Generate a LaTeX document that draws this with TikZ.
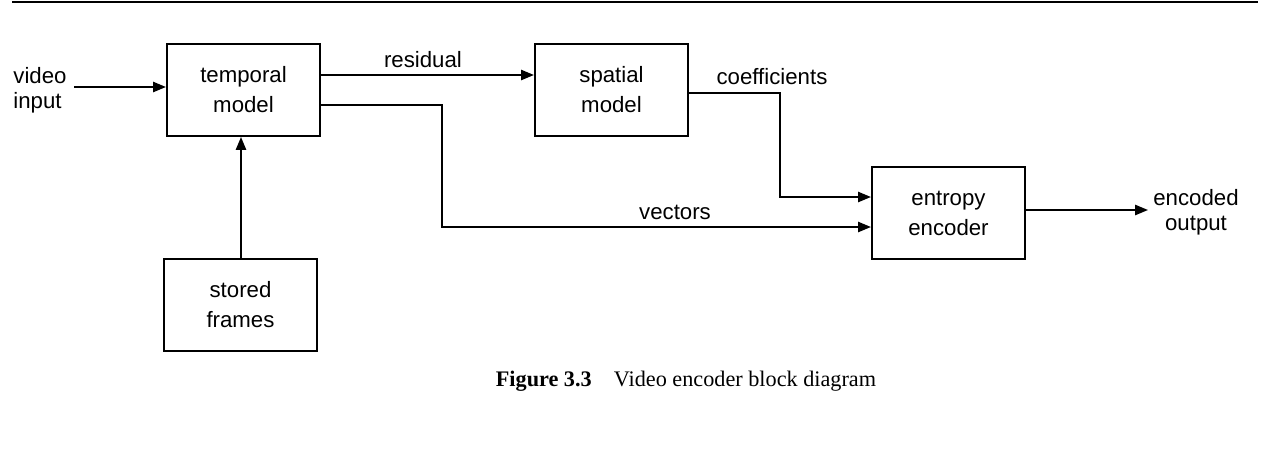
\documentclass[tikz,border=0pt]{standalone}
\usepackage{fontspec}
\setmainfont{Liberation Serif}
\newfontfamily\diagfont{Liberation Sans}
\usetikzlibrary{arrows.meta}

\tikzset{
	>={Triangle[length=5.8pt,width=4.6pt]},
	block/.style={draw, line width=0.8pt, minimum width=69pt, minimum height=41.5pt,
		inner sep=0pt, align=center, font=\diagfont\fontsize{10}{13.5}\selectfont},
	lbl/.style={inner sep=0pt, font=\diagfont\fontsize{10}{11.25}\selectfont},
	link/.style={line width=0.8pt}
}

\begin{document}
\begin{tikzpicture}[x=0.45pt,y=-0.45pt]
	\useasboundingbox (0,0) rectangle (1270,464);

	% rule above the figure
	\draw[line width=0.9pt] (12,2) -- (1258,2);

	% blocks
	\node[block] (temporal) at (243.5,90) {temporal\\model};
	\node[block] (spatial) at (611.5,90) {spatial\\model};
	\node[block] (entropy) at (948.5,213) {entropy\\encoder};
	\node[block] (stored) at (240.5,305) {stored\\frames};

	% free ends
	\node[lbl, anchor=west, align=left] (input) at (13,90) {video\\input};
	\node[lbl, align=center] (output) at (1196,212) {encoded\\output};
	\coordinate (inend) at (74,87);
	\coordinate (outend) at (1148,210);

	\draw[link,->] (inend) -- (inend -| temporal.west);
	\draw[link,->] (stored.north -| 241,0) -- (temporal.south -| 241,0);

	% residual
	\draw[link,->] (temporal.east |- 0,75) -- (spatial.west |- 0,75);
	\node[lbl] (residual) at (423,60) {residual};

	% coefficients
	\draw[link,->] (spatial.east |- 0,93) -| (780,197) -- (entropy.west |- 0,197);
	\node[lbl] (coeff) at (772,77) {coefficients};

	% vectors
	\draw[link,->] (temporal.east |- 0,105) -| (442,227) -- (entropy.west |- 0,227);
	\node[lbl] (vectors) at (675,212) {vectors};

	\draw[link,->] (entropy.east |- outend) -- (outend);

	% caption
	\node[inner sep=0pt, font=\fontsize{10}{12}\selectfont] (caption) at (686,381)
		{\textbf{Figure 3.3}\quad Video encoder block diagram};
\end{tikzpicture}
\end{document}
